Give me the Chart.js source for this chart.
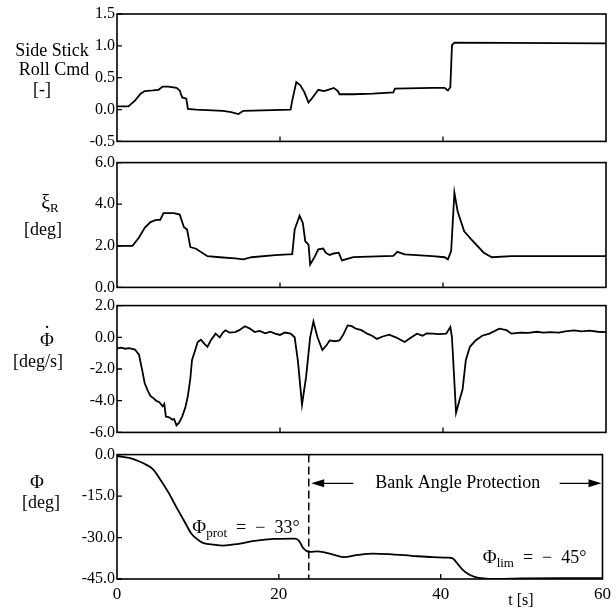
<!DOCTYPE html>
<html lang="en">
<head>
<meta charset="UTF-8" />
<title>Bank Angle Protection</title>
<script src="https://cdn.jsdelivr.net/npm/chart.js"></script>
<style>
  body { margin: 0; background: #fff; }
  #wrap { position: relative; width: 616px; height: 614px; background: #fff; }
  canvas { position: absolute; left: 0; }
</style>
</head>
<body>
<div id="wrap">
  <canvas id="c1" width="616" height="153" style="top:0px"></canvas>
  <canvas id="c2" width="616" height="148" style="top:151px"></canvas>
  <canvas id="c3" width="616" height="150" style="top:294px"></canvas>
  <canvas id="c4" width="616" height="171" style="top:443px"></canvas>
</div>
<script>
// values, time in seconds
const tCmd = [0,1.4,2.2,2.9,3.4,4.4,5.1,5.6,6.3,7.3,7.7,8.0,8.5,8.7,9.7,13,14,14.9,15.5,21.3,21.5,22,22.5,23,23.5,24,24.7,25.4,25.9,26.6,27.1,27.3,29,31.4,33.9,34.1,38.7,40.2,40.6,40.9,41.1,41.4,60];
const rollCmd = [0.05,0.05,0.14,0.25,0.29,0.30,0.31,0.36,0.36,0.34,0.30,0.19,0.17,0.01,0.0,-0.02,-0.04,-0.07,-0.02,0.0,0.14,0.43,0.38,0.27,0.11,0.19,0.31,0.29,0.31,0.34,0.29,0.24,0.24,0.25,0.27,0.33,0.34,0.34,0.30,0.35,1.01,1.05,1.04];

const tXi = [0,1.9,2.7,3.4,4.1,4.8,5.3,5.7,7.0,7.7,8.2,8.6,9.0,9.7,11.1,12.6,14.5,15.5,16.5,19.4,21.5,21.8,22.4,22.8,23.1,23.5,23.7,24.2,24.7,25.3,25.6,26.1,26.6,27.2,27.6,29.0,33.9,34.4,35.3,38.7,40.2,40.6,41.0,41.4,41.8,42.6,43.5,45.0,46.0,48.4,60];
const xiR = [2.0,2.0,2.4,2.86,3.14,3.25,3.25,3.57,3.57,3.5,2.9,2.78,1.94,1.86,1.5,1.45,1.4,1.35,1.45,1.55,1.6,2.78,3.45,3.1,2.22,2.06,1.1,1.43,1.83,1.87,1.67,1.56,1.63,1.67,1.3,1.46,1.52,1.71,1.59,1.5,1.45,1.35,1.75,4.55,3.65,2.7,2.3,1.67,1.45,1.5,1.5];

const tRate = [0,0.5,1,1.5,2.2,2.7,3.1,3.4,3.8,4.1,4.5,4.8,5.2,5.6,5.8,6.0,6.4,6.8,7.0,7.3,7.6,8.0,8.4,8.7,9.0,9.2,9.6,9.9,10.3,10.7,11.1,11.5,12.1,12.6,13.0,13.3,13.8,14.5,15.0,15.7,16.3,16.9,17.5,18.2,18.8,19.4,20.0,20.6,21.3,21.8,22.2,22.7,23.2,23.7,24.1,24.6,25.2,25.7,26.1,26.7,27.3,27.8,28.3,28.8,29.3,30.0,30.7,31.3,31.9,32.6,33.4,34.2,35.3,36.0,36.8,37.5,38.0,38.7,39.5,40.4,40.9,41.1,41.6,42.0,42.4,42.8,43.3,44.0,44.8,45.7,46.9,47.8,48.4,49.5,50.5,51.5,52.3,53.2,54.2,55.0,56.1,57.0,58.0,59.0,60];
const rollRate = [-0.7,-0.65,-0.72,-0.68,-0.77,-1.1,-2.1,-2.9,-3.4,-3.7,-3.85,-4.0,-4.1,-4.35,-4.2,-5.0,-5.05,-5.2,-5.15,-5.56,-5.4,-5.0,-4.4,-3.7,-2.6,-1.44,-0.8,-0.3,-0.15,-0.4,-0.6,-0.2,0.23,0.0,0.3,0.44,0.3,0.33,0.45,0.7,0.55,0.33,0.4,0.25,0.35,0.23,0.15,0.3,0.23,0.0,-1.5,-4.25,-2.5,0.0,1.0,0.0,-0.8,-0.5,-0.2,-0.25,-0.2,0.2,0.75,0.7,0.54,0.45,0.23,0.1,-0.1,0.05,0.17,0.0,-0.3,-0.05,0.23,0.1,0.25,0.23,0.2,0.23,0.65,0.0,-4.77,-4.0,-3.3,-1.44,-0.6,-0.2,0.1,0.23,0.54,0.45,0.23,0.3,0.28,0.35,0.3,0.33,0.3,0.38,0.44,0.38,0.42,0.35,0.33];

const tBank = [0,1.5,2.7,3.5,4.4,5.3,6.3,7.3,8.3,9.2,10.0,10.7,12.0,13.1,15.0,17.0,19.4,22.0,22.5,23.0,23.8,24.8,26.5,28.0,29.8,31.6,34.0,36.4,39.0,41.0,41.5,42.1,42.7,43.4,44.2,45.3,46.6,50,55,60];
const bank = [-0.5,-1.2,-2.4,-3.5,-5.2,-8.8,-13.4,-18.8,-24.0,-28.6,-30.8,-32.0,-32.6,-32.9,-32.3,-31.2,-30.5,-30.4,-31.2,-33.8,-35.2,-35.0,-36.0,-37.1,-36.3,-35.8,-36.1,-36.6,-37.1,-37.3,-37.6,-39.5,-41.6,-43.2,-44.2,-44.8,-45.0,-44.8,-44.7,-44.7];

const xTicks = [0, 20, 40, 60];
const protectionStart = 23.7;

const SERIF = '"Liberation Serif", "Times New Roman", serif';

// draw a row of text pieces (for subscripts), returns width
function runsWidth(ctx, runs) {
  let w = 0;
  runs.forEach(r => { ctx.font = r.size + 'px ' + SERIF; w += ctx.measureText(r.text).width; });
  return w;
}
function drawRuns(ctx, x, y, runs) {
  runs.forEach(r => {
    ctx.font = r.size + 'px ' + SERIF;
    ctx.fillText(r.text, x, y + (r.dy || 0));
    x += ctx.measureText(r.text).width;
  });
}

// frame, inward ticks and the side labels
function decor(top, labels) {
  return {
    id: 'decor',
    afterDatasetsDraw(chart) {
      const { ctx, chartArea: a } = chart;
      const xs = chart.scales.x, ys = chart.scales.y;
      ctx.save();
      ctx.strokeStyle = '#000';
      ctx.fillStyle = '#000';
      ctx.lineWidth = 1.6;
      ctx.strokeRect(a.left, a.top, a.right - a.left, a.bottom - a.top);
      ctx.lineWidth = 1.3;
      ctx.beginPath();
      [20, 40].forEach(v => {
        const px = xs.getPixelForValue(v);
        ctx.moveTo(px, a.bottom); ctx.lineTo(px, a.bottom - 5);
      });
      ys.ticks.forEach(t => {
        const py = ys.getPixelForValue(t.value);
        ctx.moveTo(a.left, py); ctx.lineTo(a.left + 5, py);
      });
      ctx.stroke();
      ctx.textBaseline = 'middle';
      labels.forEach(l => {
        const w = runsWidth(ctx, l.runs);
        const x0 = l.cx - w / 2;
        drawRuns(ctx, x0, l.y - top, l.runs);
        if (l.dot) {
          ctx.font = '20px ' + SERIF;
          ctx.textAlign = 'center';
          ctx.fillText('\u02D9', x0 + l.dot, l.y - top - 6);
          ctx.textAlign = 'left';
        }
      });
      ctx.restore();
    }
  };
}

// annotations of the bank angle panel
const bankNotes = {
  id: 'bankNotes',
  afterDatasetsDraw(chart) {
    const { ctx, chartArea: a } = chart;
    const xs = chart.scales.x, ys = chart.scales.y;
    ctx.save();
    ctx.strokeStyle = '#000';
    ctx.fillStyle = '#000';
    const xp = xs.getPixelForValue(protectionStart);
    ctx.lineWidth = 1.5;
    ctx.setLineDash([8, 4]);
    ctx.beginPath();
    ctx.moveTo(xp, a.top); ctx.lineTo(xp, a.bottom);
    ctx.stroke();
    ctx.setLineDash([]);

    const ay = ys.getPixelForValue(-10.4);
    const arrow = (x1, x2) => {
      const dir = Math.sign(x2 - x1);
      ctx.beginPath();
      ctx.moveTo(x1, ay); ctx.lineTo(x2 - dir * 10, ay);
      ctx.stroke();
      ctx.beginPath();
      ctx.moveTo(x2, ay);
      ctx.lineTo(x2 - dir * 13, ay - 4);
      ctx.lineTo(x2 - dir * 13, ay + 4);
      ctx.closePath();
      ctx.fill();
    };
    ctx.lineWidth = 1.4;
    arrow(xs.getPixelForValue(29.2), xs.getPixelForValue(24.0));
    arrow(xs.getPixelForValue(54.7), xs.getPixelForValue(60) - 1);

    ctx.textBaseline = 'middle';
    ctx.textAlign = 'center';
    ctx.font = '18px ' + SERIF;
    ctx.fillText('Bank Angle Protection', xs.getPixelForValue(42.1), ay);

    ctx.textAlign = 'left';
    ctx.textBaseline = 'alphabetic';
    drawRuns(ctx, xs.getPixelForValue(9.3), ys.getPixelForValue(-28.2), [
      { text: '\u03A6', size: 19 },
      { text: 'prot', size: 13, dy: 4 },
      { text: '  =  \u2212  33\u00B0', size: 18 }
    ]);
    drawRuns(ctx, xs.getPixelForValue(45.2), ys.getPixelForValue(-39.3), [
      { text: '\u03A6', size: 19 },
      { text: 'lim', size: 13, dy: 4 },
      { text: '  =  \u2212  45\u00B0', size: 18 }
    ]);

    ctx.font = '16px ' + SERIF;
    ctx.textBaseline = 'middle';
    ctx.textAlign = 'center';
    ctx.fillText('t [s]', 521, 601 - 443);
    ctx.restore();
  }
};

function panel(id, top, t, v, yMin, yMax, step, pad, showX, labels, extra, smooth) {
  const plugins = [decor(top, labels)];
  if (extra) plugins.push(extra);
  return new Chart(document.getElementById(id), {
    type: 'line',
    data: {
      datasets: [{
        data: t.map((x, i) => ({ x: x, y: v[i] })),
        borderColor: '#000',
        borderWidth: 1.8,
        pointRadius: 0,
        tension: smooth ? 0.4 : 0,
        cubicInterpolationMode: smooth ? 'monotone' : 'default'
      }]
    },
    options: {
      responsive: false,
      animation: false,
      devicePixelRatio: 1,
      layout: { padding: { left: 0, right: 10, top: pad[0], bottom: pad[1] } },
      plugins: { legend: { display: false }, tooltip: { enabled: false } },
      scales: {
        x: {
          type: 'linear', min: 0, max: 60, display: showX,
          afterBuildTicks: s => { s.ticks = xTicks.map(value => ({ value })); },
          afterFit: s => { if (showX) s.height = 35; },
          ticks: { color: '#000', font: { family: SERIF, size: 17 }, padding: 5, maxRotation: 0 },
          grid: { display: false, drawTicks: false },
          border: { display: false }
        },
        y: {
          min: yMin, max: yMax,
          afterFit: s => { s.width = 117; },
          ticks: {
            stepSize: step, autoSkip: false, color: '#000', padding: 2,
            font: { family: SERIF, size: 16 },
            callback: val => val.toFixed(1)
          },
          grid: { display: false, drawTicks: false },
          border: { display: false }
        }
      }
    },
    plugins: plugins
  });
}

panel('c1', 0, tCmd, rollCmd, -0.5, 1.5, 0.5, [14, 10], false, [
  { cx: 52, y: 51, runs: [{ text: 'Side Stick', size: 18 }] },
  { cx: 54, y: 70, runs: [{ text: 'Roll Cmd', size: 18 }] },
  { cx: 42, y: 90, runs: [{ text: '[-]', size: 18 }] }
]);
panel('c2', 151, tXi, xiR, 0, 6, 2, [10, 10], false, [
  { cx: 50, y: 204, runs: [{ text: '\u03BE', size: 20 }, { text: 'R', size: 13, dy: 5 }] },
  { cx: 43, y: 230, runs: [{ text: '[deg]', size: 18 }] }
]);
panel('c3', 294, tRate, rollRate, -6, 2, 2, [10, 10], false, [
  { cx: 47, y: 341, runs: [{ text: '\u03A6', size: 19 }], dot: 7 },
  { cx: 38, y: 362, runs: [{ text: '[deg/s]', size: 18 }] }
]);
panel('c4', 443, tBank, bank, -45, 0, 15, [10, 0], true, [
  { cx: 37, y: 483, runs: [{ text: '\u03A6', size: 19 }] },
  { cx: 41, y: 503, runs: [{ text: '[deg]', size: 18 }] }
], bankNotes, true);
</script>
</body>
</html>
